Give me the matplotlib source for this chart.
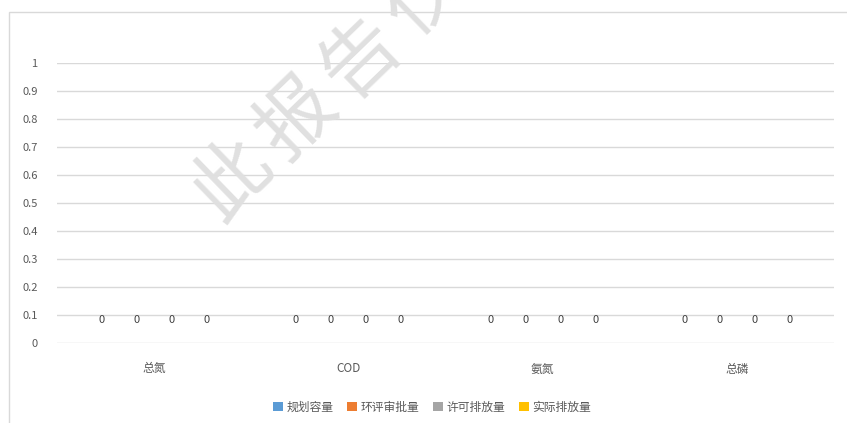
import numpy as np
import matplotlib
matplotlib.use("Agg")
import matplotlib.pyplot as plt
from matplotlib.patches import Rectangle, Patch

plt.rcParams["font.family"] = ["Noto Sans CJK SC", "DejaVu Sans"]

categories = ["总氮", "COD", "氨氮", "总磷"]
series_names = ["规划容量", "环评审批量", "许可排放量", "实际排放量"]
series_values = [
    [0, 0, 0, 0],
    [0, 0, 0, 0],
    [0, 0, 0, 0],
    [0, 0, 0, 0],
]
colors = ["#5B9BD5", "#ED7D31", "#A5A5A5", "#FFC000"]
yticks = [0, 0.1, 0.2, 0.3, 0.4, 0.5, 0.6, 0.7, 0.8, 0.9, 1]
watermark = "此报告仅"

W, H = 847, 423
fig = plt.figure(figsize=(W / 100, H / 100), dpi=100)
ax = fig.add_axes([57 / W, 1 - 343 / H, (834 - 57) / W, (343 - 63) / H])

# chart frame (Excel chart area border)
fig.patches.append(Rectangle((9 / W, -0.1), 1.2, 1.1 - 12 / H,
                             transform=fig.transFigure, fill=False,
                             edgecolor="#d9d9d9", lw=1.0, zorder=0))

x = np.arange(len(categories))
w = 0.18
for i, (name, vals) in enumerate(zip(series_names, series_values)):
    xs = x + (i - 1.5) * w
    ax.bar(xs, vals, width=w, color=colors[i], label=name)
    for xi, v in zip(xs, vals):
        ax.annotate(f"{v:g}", (xi, v), xytext=(0, 16.5), textcoords="offset points",
                    ha="center", va="center", fontsize=8, color="#404040")

ax.set_xlim(-0.5, len(categories) - 0.5)
ax.set_ylim(0, 1)
ax.set_yticks(yticks)
ax.set_yticklabels([f"{t:g}" for t in yticks])
ax.set_xticks(x)
ax.set_xticklabels(categories)
ax.tick_params(axis="y", length=0, pad=14, labelsize=8, labelcolor="#595959")
ax.tick_params(axis="x", length=0, pad=14, labelsize=8.5, labelcolor="#595959")
ax.grid(axis="y", color="#d9d9d9", lw=1.0)
ax.set_axisbelow(True)
for s in ax.spines.values():
    s.set_visible(False)

handles = [Patch(facecolor=c, edgecolor="none") for c in colors]
fig.legend(handles, series_names, loc="center", bbox_to_anchor=(432 / W, 1 - 407 / H),
           ncol=4, frameon=False, fontsize=8.5, handlelength=0.8, handleheight=0.8,
           handletextpad=0.3, columnspacing=1.2, labelcolor="#595959")

# diagonal watermark, one glyph at a time (last one runs off the top edge)
for k, ch in enumerate(watermark):
    cx, cy = 233 + 64 * k, 180 - 61 * k
    fig.text(cx / W, 1 - cy / H, ch, rotation=44, fontsize=56,
             color="#e0e0e0", ha="center", va="center",
             rotation_mode="anchor", zorder=5)

fig.savefig("out.png", dpi=100)
